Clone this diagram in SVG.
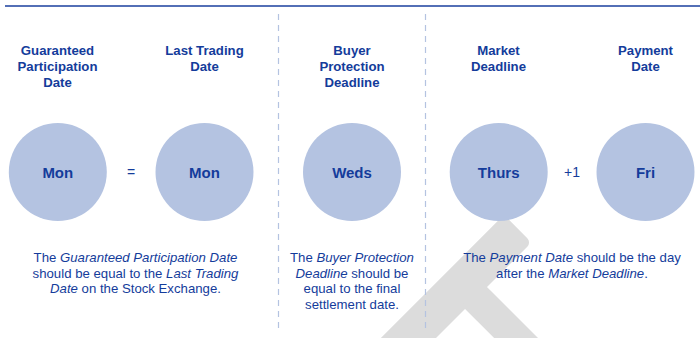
<svg xmlns="http://www.w3.org/2000/svg" width="700" height="338" viewBox="0 0 700 338">
<style>
.hd{font-family:"Liberation Sans",Arial,sans-serif;font-weight:bold;font-size:13.2px;fill:#143c9b;text-anchor:middle}
.cl{font-family:"Liberation Sans",Arial,sans-serif;font-weight:bold;font-size:15px;fill:#143c9b;text-anchor:middle}
.op{font-family:"Liberation Sans",Arial,sans-serif;font-size:14px;fill:#143c9b;text-anchor:middle}
.bd{font-family:"Liberation Sans",Arial,sans-serif;font-size:13.2px;fill:#143c9b;text-anchor:middle}
.it{font-style:italic}
.c{fill:#b4c3e1}
.sep{stroke:#b4c3e1;stroke-width:1.2;stroke-dasharray:6 5;fill:none}
</style>
<rect width="700" height="338" fill="#ffffff"/>
<g id="watermark" fill="#dcdcdc" transform="translate(487,287) rotate(45)">
<rect x="-39" y="-63" width="39" height="200" rx="6"/>
<rect x="-5" y="0" width="110" height="31"/>
</g>
<line x1="5" y1="6" x2="700" y2="6" stroke="#1a3f9e" stroke-width="1.3"/>
<g id="connectors">
<line class="sep" x1="278.5" y1="14" x2="278.5" y2="330"/>
<line class="sep" x1="425.5" y1="14" x2="425.5" y2="330"/>
<text class="op" x="131" y="177">=</text>
<text class="op" x="572" y="177">+1</text>
</g>
<g id="node-gpd">
<text class="hd" x="57.5" y="55">Guaranteed</text>
<text class="hd" x="57.5" y="71">Participation</text>
<text class="hd" x="57.5" y="87">Date</text>
<circle class="c" cx="57.8" cy="172" r="49"/>
<text class="cl" x="57.8" y="177.5">Mon</text>
</g>
<g id="node-ltd">
<text class="hd" x="204.5" y="55">Last Trading</text>
<text class="hd" x="204.5" y="71">Date</text>
<circle class="c" cx="204.5" cy="172" r="49"/>
<text class="cl" x="204.5" y="177.5">Mon</text>
</g>
<g id="node-bpd">
<text class="hd" x="352" y="55">Buyer</text>
<text class="hd" x="352" y="71">Protection</text>
<text class="hd" x="352" y="87">Deadline</text>
<circle class="c" cx="352" cy="172" r="49"/>
<text class="cl" x="352" y="177.5">Weds</text>
</g>
<g id="node-md">
<text class="hd" x="498.5" y="55">Market</text>
<text class="hd" x="498.5" y="71">Deadline</text>
<circle class="c" cx="498.7" cy="172" r="49"/>
<text class="cl" x="498.7" y="177.5">Thurs</text>
</g>
<g id="node-pd">
<text class="hd" x="645.5" y="55">Payment</text>
<text class="hd" x="645.5" y="71">Date</text>
<circle class="c" cx="645.5" cy="172" r="49"/>
<text class="cl" x="645.5" y="177.5">Fri</text>
</g>
<g id="note-1">
<text class="bd" x="135.5" y="262">The <tspan class="it">Guaranteed Participation Date</tspan></text>
<text class="bd" x="135.5" y="277.5"><tspan>should be equal to the </tspan><tspan class="it">Last Trading</tspan></text>
<text class="bd" x="135.5" y="293"><tspan class="it">Date</tspan> on the Stock Exchange.</text>
</g>
<g id="note-2">
<text class="bd" x="352" y="262">The <tspan class="it">Buyer Protection</tspan></text>
<text class="bd" x="352" y="277.5"><tspan class="it">Deadline</tspan> should be</text>
<text class="bd" x="352" y="293">equal to the final</text>
<text class="bd" x="352" y="309">settlement date.</text>
</g>
<g id="note-3">
<text class="bd" x="572" y="262">The <tspan class="it">Payment Date</tspan> should be the day</text>
<text class="bd" x="572" y="277.5">after the <tspan class="it">Market Deadline</tspan>.</text>
</g>
</svg>
